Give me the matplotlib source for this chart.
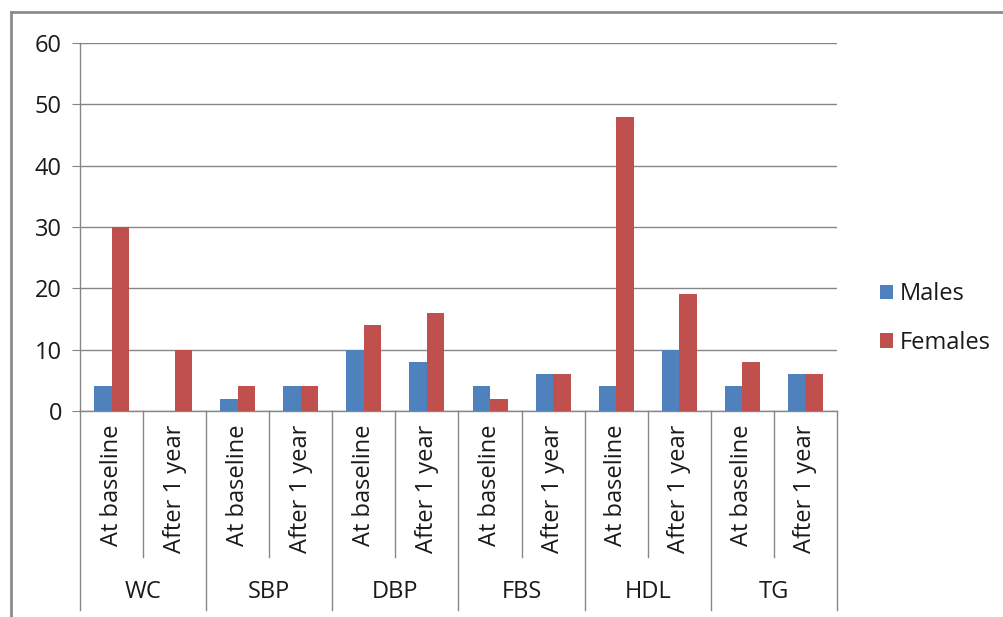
import matplotlib
matplotlib.use("Agg")
import matplotlib.pyplot as plt
import matplotlib.transforms as mtransforms
from matplotlib.lines import Line2D
import numpy as np

plt.rcParams['font.family'] = ['Open Sans', 'DejaVu Sans']

groups = ["WC", "SBP", "DBP", "FBS", "HDL", "TG"]
periods = ["At baseline", "After 1 year"]
males = [4, 0, 2, 4, 10, 8, 4, 6, 4, 10, 4, 6]
females = [30, 10, 4, 4, 14, 16, 2, 6, 48, 19, 8, 6]
yticks = [0, 10, 20, 30, 40, 50, 60]

W, H = 1004, 617
fig = plt.figure(figsize=(W / 100, H / 100), dpi=100)
L, R, T, B = 80, 837, 43, 411
ax = fig.add_axes([L / W, 1 - B / H, (R - L) / W, (B - T) / H])

n = len(males)
x = np.arange(n)
bw = 0.277
blue = "#4F81BD"
red = "#C0504D"
grid_c = "#868686"
txt_c = "#1a1a1a"
fs = 17
ax.bar(x - bw / 2, males, bw, color=blue, label="Males", zorder=3)
ax.bar(x + bw / 2, females, bw, color=red, label="Females", zorder=3)

ax.set_xlim(-0.5, n - 0.5)
ax.set_ylim(0, 60)
ax.set_yticks(yticks)
ax.yaxis.grid(True, color=grid_c, lw=1.0, zorder=0)
for s in ["top", "right"]:
    ax.spines[s].set_visible(False)
for s in ["left", "bottom"]:
    ax.spines[s].set_color(grid_c)
    ax.spines[s].set_linewidth(1.0)
ax.tick_params(axis="y", length=6, color=grid_c, labelsize=fs, pad=7, labelcolor=txt_c)
ax.set_xticks(x)
ax.set_xticklabels([periods[i % 2] for i in range(n)], rotation=90, va="top", ha="center",
                   fontsize=fs, color=txt_c)
ax.tick_params(axis="x", length=0, pad=10)

trans = mtransforms.blended_transform_factory(ax.transData, fig.transFigure)
for i in range(n + 1):
    xb = i - 0.5
    ybot = 610 if i % 2 == 0 else 557
    ax.add_line(Line2D([xb, xb], [1 - B / H, 1 - ybot / H], transform=trans,
                       color=grid_c, lw=1.0, clip_on=False))
for g, name in enumerate(groups):
    ax.text(2 * g + 0.5, 1 - 592 / H, name, transform=trans, ha="center", va="center",
            fontsize=fs, color=txt_c)

leg = ax.legend(loc="center left", bbox_to_anchor=(880 / W, 1 - 318.5 / H),
                bbox_transform=fig.transFigure, frameon=False, fontsize=fs,
                handlelength=0.55, handleheight=0.55, handletextpad=0.3,
                labelspacing=1.05, borderpad=0, borderaxespad=0)
for t in leg.get_texts():
    t.set_color(txt_c)

border_c = "#8c8c8c"
fig.add_artist(Line2D([11 / W, 11 / W], [1 - 12 / H, 0], transform=fig.transFigure,
                      color=border_c, lw=2))
fig.add_artist(Line2D([11 / W, 1], [1 - 12 / H, 1 - 12 / H], transform=fig.transFigure,
                      color=border_c, lw=2))

fig.savefig("out.png", dpi=100)
